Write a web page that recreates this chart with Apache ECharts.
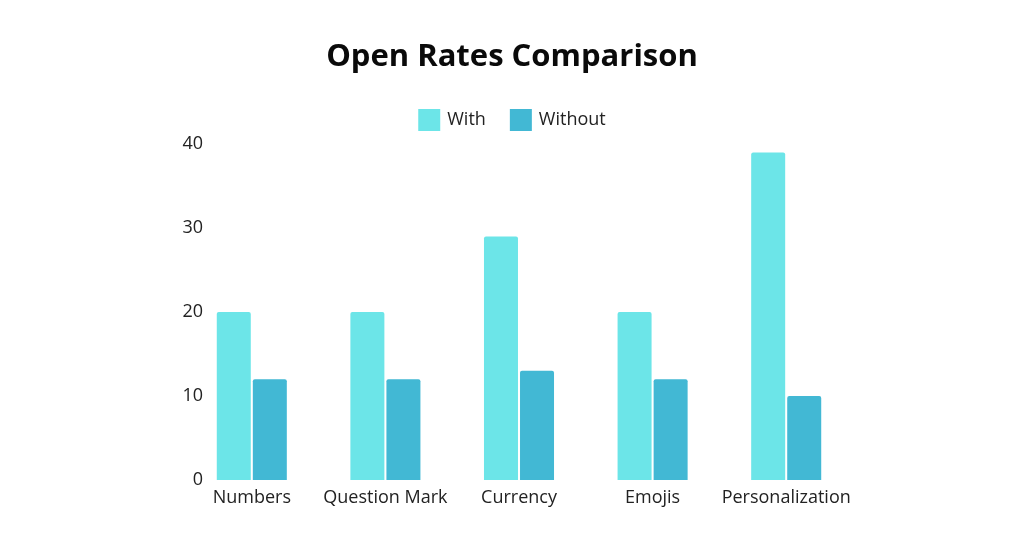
<!DOCTYPE html>
<html><head><meta charset="utf-8">
<script src="https://cdn.jsdelivr.net/npm/echarts@6/dist/echarts.min.js"></script>
<style>html,body{margin:0;padding:0;background:#fff}#c{width:1024px;height:536px}</style>
</head><body><div id="c"></div>
<script>
const categories = ['Numbers', 'Question Mark', 'Currency', 'Emojis', 'Personalization'];
const withValues = [20, 20, 29, 20, 39];
const withoutValues = [12, 12, 13, 12, 10];
const yTicks = [0, 10, 20, 30, 40];

const chart = echarts.init(document.getElementById('c'));
chart.setOption({
  backgroundColor: '#ffffff',
  animation: false,
  title: {
    text: 'Open Rates Comparison', left: 'center', top: 37,
    textStyle: { fontFamily: 'Open Sans', fontWeight: 'bold', fontSize: 31, color: '#0a0a0a' }
  },
  legend: {
    top: 104, left: 'center', itemWidth: 22, itemHeight: 22, itemGap: 24,
    icon: 'rect',
    textStyle: { fontFamily: 'Open Sans', fontSize: 18, color: '#222', padding: [0, 0, 0, 2] },
    data: ['With', 'Without']
  },
  grid: { left: 185, right: 171, top: 144, bottom: 56, containLabel: false },
  xAxis: {
    type: 'category', data: categories,
    axisLine: { show: false }, axisTick: { show: false },
    axisLabel: { interval: 0, margin: 9, fontFamily: 'Open Sans', fontSize: 18, color: '#222' }
  },
  yAxis: {
    type: 'value', min: yTicks[0], max: yTicks[yTicks.length - 1], interval: 10,
    splitLine: { show: false }, axisLine: { show: false }, axisTick: { show: false },
    axisLabel: { margin: -18, fontFamily: 'Open Sans', fontSize: 18, color: '#222' }
  },
  series: [
    { name: 'With', type: 'bar', data: withValues, barWidth: 34, barGap: '6%',
      itemStyle: { color: '#6ce5e8', borderRadius: [2, 2, 0, 0] } },
    { name: 'Without', type: 'bar', data: withoutValues, barWidth: 34,
      itemStyle: { color: '#42b8d4', borderRadius: [2, 2, 0, 0] } }
  ]
});
</script></body></html>
